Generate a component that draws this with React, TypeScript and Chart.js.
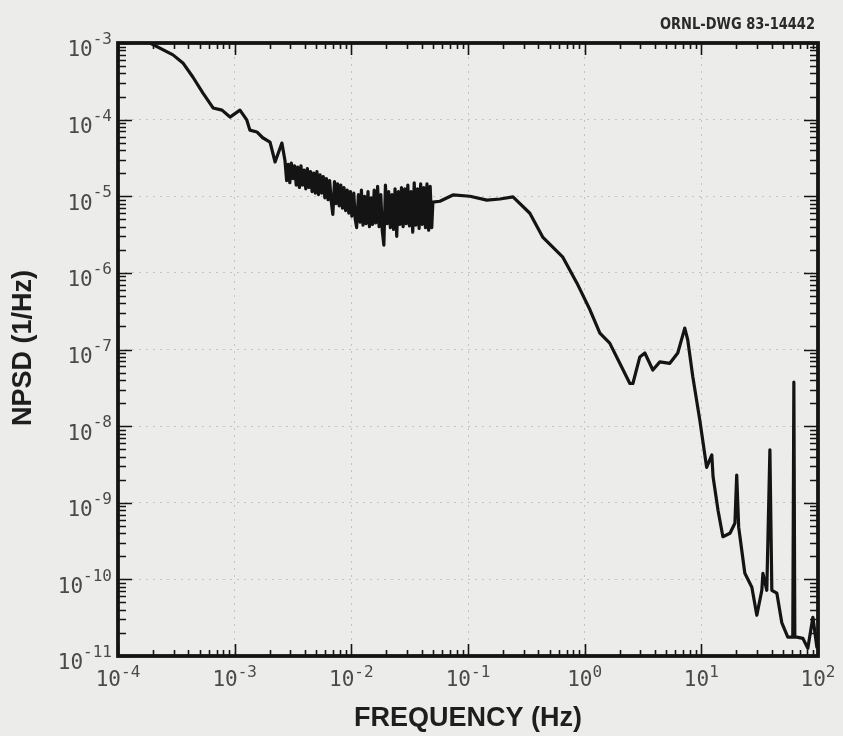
import React, { useEffect, useRef } from 'react';
import { Chart, registerables } from 'chart.js';

Chart.register(...registerables);

// ---- Data (frequency in Hz, NPSD in 1/Hz) ----
const FREQ_LOW = [1.88e-4, 2.96e-4, 3.6e-4, 4.38e-4, 5.35e-4, 6.53e-4, 7.79e-4, 9.12e-4, 1.11e-3, 1.27e-3, 1.35e-3, 1.55e-3, 1.74e-3, 2.01e-3, 2.22e-3, 2.54e-3];
const NPSD_LOW = [1.0e-3, 7.0e-4, 5.5e-4, 3.6e-4, 2.22e-4, 1.42e-4, 1.33e-4, 1.08e-4, 1.33e-4, 9.9e-5, 7.3e-5, 6.9e-5, 5.8e-5, 5.1e-5, 2.8e-5, 4.95e-5];

const FREQ_NOISE = [
  2.70e-3, 2.79e-3, 2.88e-3, 2.97e-3, 3.06e-3, 3.16e-3, 3.26e-3, 3.37e-3, 3.47e-3, 3.59e-3,
  3.70e-3, 3.82e-3, 3.94e-3, 4.07e-3, 4.20e-3, 4.33e-3, 4.47e-3, 4.61e-3, 4.76e-3, 4.91e-3,
  5.07e-3, 5.23e-3, 5.40e-3, 5.57e-3, 5.75e-3, 5.93e-3, 6.12e-3, 6.32e-3, 6.52e-3, 6.73e-3,
  6.94e-3, 7.17e-3, 7.39e-3, 7.63e-3, 7.87e-3, 8.13e-3, 8.39e-3, 8.65e-3, 8.93e-3, 9.22e-3,
  9.51e-3, 9.82e-3, 1.01e-2, 1.05e-2, 1.08e-2, 1.11e-2, 1.15e-2, 1.19e-2, 1.22e-2, 1.26e-2,
  1.30e-2, 1.34e-2, 1.39e-2, 1.43e-2, 1.48e-2, 1.52e-2, 1.57e-2, 1.62e-2, 1.68e-2, 1.73e-2,
  1.79e-2, 1.84e-2, 1.90e-2, 1.96e-2, 2.03e-2, 2.09e-2, 2.16e-2, 2.23e-2, 2.30e-2, 2.37e-2,
  2.45e-2, 2.53e-2, 2.61e-2, 2.69e-2, 2.78e-2, 2.87e-2, 2.96e-2, 3.05e-2, 3.15e-2, 3.25e-2,
  3.36e-2, 3.46e-2, 3.57e-2, 3.69e-2, 3.81e-2, 3.93e-2, 4.05e-2, 4.18e-2, 4.32e-2, 4.45e-2,
  4.60e-2, 4.74e-2, 4.89e-2, 5.00e-2,
];
const NPSD_NOISE = [
  2.9e-5, 1.6e-5, 2.6e-5, 1.5e-5, 2.7e-5, 1.7e-5, 2.5e-5, 1.4e-5, 2.4e-5, 1.3e-5,
  2.5e-5, 1.4e-5, 2.2e-5, 1.25e-5, 2.3e-5, 1.3e-5, 2.1e-5, 1.15e-5, 2.0e-5, 1.1e-5,
  2.1e-5, 1.05e-5, 1.9e-5, 1.1e-5, 1.8e-5, 9.5e-6, 1.7e-5, 9.0e-6, 1.6e-5, 8.5e-6,
  5.8e-6, 1.55e-5, 8.0e-6, 1.45e-5, 7.5e-6, 1.4e-5, 7.0e-6, 1.3e-5, 6.5e-6, 1.2e-5,
  6.0e-6, 1.15e-5, 5.5e-6, 1.1e-5, 5.0e-6, 3.9e-6, 1.05e-5, 4.6e-6, 1.2e-5, 4.2e-6,
  1.0e-5, 4.4e-6, 1.15e-5, 4.0e-6, 9.5e-6, 4.3e-6, 1.2e-5, 4.5e-6, 1.35e-5, 4.0e-6,
  1.05e-5, 3.6e-6, 2.3e-6, 1.4e-5, 4.4e-6, 1.15e-5, 3.9e-6, 1.05e-5, 3.7e-6, 1.25e-5,
  3.0e-6, 1.15e-5, 4.3e-6, 1.3e-5, 4.0e-6, 1.25e-5, 4.4e-6, 1.4e-5, 4.1e-6, 1.15e-5,
  3.4e-6, 1.5e-5, 4.2e-6, 1.25e-5, 3.8e-6, 1.45e-5, 4.3e-6, 1.3e-5, 3.9e-6, 1.45e-5,
  3.6e-6, 1.35e-5, 3.9e-6, 8.4e-6,
];

const FREQ_HIGH = [5.74e-2, 7.43e-2, 0.104, 0.145, 0.188, 0.243, 0.339, 0.439, 0.65, 0.857, 1.11, 1.35, 1.64, 2.0, 2.44, 2.59, 2.97, 3.28, 3.84, 4.41, 5.37, 6.28, 7.21, 7.65, 8.45, 9.7, 11.1, 12.3, 12.6, 13.9, 15.3, 17.6, 19.4, 20.1, 20.9, 23.6, 27.1, 29.9, 33.0, 33.7, 36.4, 38.7, 40.2, 44.4, 49.0, 55.1, 60.8, 62.1, 63.3, 65.8, 74.1, 81.8, 90.4, 97.8];
const NPSD_HIGH = [8.6e-6, 1.04e-5, 1.0e-5, 8.9e-6, 9.2e-6, 9.8e-6, 6.0e-6, 2.9e-6, 1.6e-6, 7.4e-7, 3.3e-7, 1.64e-7, 1.21e-7, 6.6e-8, 3.6e-8, 3.6e-8, 8.0e-8, 9.0e-8, 5.4e-8, 6.9e-8, 6.6e-8, 9.0e-8, 1.9e-7, 1.33e-7, 4.4e-8, 1.2e-8, 2.9e-9, 4.2e-9, 2.2e-9, 8.0e-10, 3.6e-10, 4.0e-10, 5.4e-10, 2.3e-9, 4.8e-10, 1.2e-10, 7.9e-11, 3.4e-11, 7.2e-11, 1.2e-10, 7.2e-11, 4.9e-9, 7.2e-11, 6.6e-11, 2.7e-11, 1.76e-11, 1.76e-11, 3.75e-8, 1.76e-11, 1.76e-11, 1.7e-11, 1.26e-11, 3.2e-11, 1.3e-11];

// ---- Axis ranges and tick labels ----
const X_MIN = 1e-4;
const X_MAX = 1e2;
const Y_MIN = 1e-11;
const Y_MAX = 1e-3;
const X_DECADES = [-4, -3, -2, -1, 0, 1, 2];
const Y_DECADES = [-11, -10, -9, -8, -7, -6, -5, -4, -3];
const X_TITLE = 'FREQUENCY (Hz)';
const Y_TITLE = 'NPSD (1/Hz)';
const DRAWING_ID = 'ORNL-DWG 83-14442';

const BG = '#ececea';
const INK = '#141414';
const LABEL_INK = '#4a4a4a';
const MONO = '"DejaVu Sans Mono", "Liberation Mono", monospace';
const SANS = '"Liberation Sans", Arial, Helvetica, sans-serif';

const isDecade = (v: number) => Math.abs(Math.log10(v) - Math.round(Math.log10(v))) < 1e-6;

const framePlugin = {
  id: 'oldPlotFrame',
  beforeDraw(chart: any) {
    const ctx = chart.ctx;
    ctx.save();
    ctx.fillStyle = BG;
    ctx.fillRect(0, 0, chart.width, chart.height);
    ctx.restore();
  },
  afterDraw(chart: any) {
    const ctx: CanvasRenderingContext2D = chart.ctx;
    const a = chart.chartArea;
    const xs = chart.scales.x;
    const ys = chart.scales.y;
    ctx.save();

    // minor / major tick marks on all four sides, pointing inward
    ctx.strokeStyle = INK;
    ctx.lineWidth = 1.6;
    ctx.beginPath();
    for (let e = X_DECADES[0]; e <= X_DECADES[X_DECADES.length - 1]; e++) {
      for (let k = 1; k < 10; k++) {
        const v = k * Math.pow(10, e);
        if (v > X_MAX * 1.0001) break;
        const px = Math.round(xs.getPixelForValue(v)) + 0.5;
        const len = k === 1 ? 12 : 6;
        ctx.moveTo(px, a.bottom);
        ctx.lineTo(px, a.bottom - len);
        ctx.moveTo(px, a.top);
        ctx.lineTo(px, a.top + len);
      }
    }
    for (let e = Y_DECADES[0]; e <= Y_DECADES[Y_DECADES.length - 1]; e++) {
      for (let k = 1; k < 10; k++) {
        const v = k * Math.pow(10, e);
        if (v > Y_MAX * 1.0001) break;
        const py = Math.round(ys.getPixelForValue(v)) + 0.5;
        const len = k === 1 ? 14 : 8;
        ctx.moveTo(a.left, py);
        ctx.lineTo(a.left + len, py);
        ctx.moveTo(a.right, py);
        ctx.lineTo(a.right - len, py);
      }
    }
    ctx.stroke();

    // heavy frame
    ctx.lineWidth = 3.8;
    ctx.strokeRect(a.left, a.top, a.right - a.left, a.bottom - a.top);

    // tick labels: 10 with raised exponent
    const baseFont = `21px ${MONO}`;
    const expFont = `16px ${MONO}`;
    ctx.fillStyle = LABEL_INK;
    ctx.textBaseline = 'middle';
    ctx.textAlign = 'left';
    for (const e of X_DECADES) {
      const px = xs.getPixelForValue(Math.pow(10, e));
      const expStr = String(e);
      ctx.font = baseFont;
      const bw = ctx.measureText('10').width;
      ctx.font = expFont;
      const ew = ctx.measureText(expStr).width;
      const x0 = px - (bw + ew) / 2;
      ctx.font = baseFont;
      ctx.fillText('10', x0, a.bottom + 25);
      ctx.font = expFont;
      ctx.fillText(expStr, x0 + bw, a.bottom + 17);
    }
    for (const e of Y_DECADES) {
      const py = ys.getPixelForValue(Math.pow(10, e));
      const expStr = String(e);
      ctx.font = baseFont;
      const bw = ctx.measureText('10').width;
      ctx.font = expFont;
      const ew = ctx.measureText(expStr).width;
      const right = a.left - 6;
      ctx.font = baseFont;
      ctx.fillText('10', right - ew - bw, py + 8);
      ctx.font = expFont;
      ctx.fillText(expStr, right - ew, py - 3);
    }

    // axis titles
    ctx.fillStyle = '#1e1e1e';
    ctx.font = `bold 27px ${SANS}`;
    ctx.textAlign = 'center';
    ctx.textBaseline = 'middle';
    ctx.fillText(X_TITLE, (a.left + a.right) / 2, 719);
    ctx.save();
    ctx.translate(24, 348);
    ctx.rotate(-Math.PI / 2);
    ctx.fillText(Y_TITLE, 0, 0);
    ctx.restore();

    // drawing number, top right (condensed)
    ctx.font = `bold 15px "DejaVu Sans Condensed", "DejaVu Sans", sans-serif`;
    ctx.textAlign = 'left';
    ctx.textBaseline = 'alphabetic';
    const w = ctx.measureText(DRAWING_ID).width;
    const target = 155;
    ctx.save();
    ctx.translate(660, 29);
    ctx.scale(target / w, 1.05);
    ctx.fillStyle = '#2a2a2a';
    ctx.fillText(DRAWING_ID, 0, 0);
    ctx.restore();

    ctx.restore();
  },
};

export default function App() {
  const canvasRef = useRef<HTMLCanvasElement | null>(null);

  useEffect(() => {
    const canvas = canvasRef.current;
    if (!canvas) return;
    const freq = [...FREQ_LOW, ...FREQ_NOISE, ...FREQ_HIGH];
    const npsd = [...NPSD_LOW, ...NPSD_NOISE, ...NPSD_HIGH];
    const points = freq.map((f, i) => ({ x: f, y: npsd[i] }));

    const gridColor = (c: any) =>
      c.tick && isDecade(c.tick.value) && c.tick.value > (c.scale.min * 1.0001) && c.tick.value < (c.scale.max * 0.9999)
        ? 'rgba(120,120,120,0.35)'
        : 'rgba(0,0,0,0)';

    const chart = new Chart(canvas, {
      type: 'line',
      data: {
        datasets: [
          {
            label: 'NPSD',
            data: points,
            borderColor: INK,
            borderWidth: 3.2,
            pointRadius: 0,
            tension: 0,
            fill: false,
            borderJoinStyle: 'round',
            borderCapStyle: 'round',
          } as any,
        ],
      },
      options: {
        responsive: false,
        animation: false,
        devicePixelRatio: 1,
        layout: { padding: { left: 118, right: 25, top: 43, bottom: 80 } },
        plugins: {
          legend: { display: false },
          tooltip: { enabled: false },
          title: { display: false },
        },
        scales: {
          x: {
            type: 'logarithmic',
            min: X_MIN,
            max: X_MAX,
            ticks: { display: false },
            border: { display: false, dash: [2, 5] },
            grid: { color: gridColor, lineWidth: 1, drawTicks: false },
          },
          y: {
            type: 'logarithmic',
            min: Y_MIN,
            max: Y_MAX,
            ticks: { display: false },
            border: { display: false, dash: [2, 5] },
            grid: { color: gridColor, lineWidth: 1, drawTicks: false },
          },
        },
      } as any,
      plugins: [framePlugin],
    });
    return () => chart.destroy();
  }, []);

  return (
    <div style={{ position: 'fixed', left: 0, top: 0, width: 843, height: 736, background: BG }}>
      <canvas ref={canvasRef} width={843} height={736} style={{ display: 'block', width: 843, height: 736 }} />
    </div>
  );
}
